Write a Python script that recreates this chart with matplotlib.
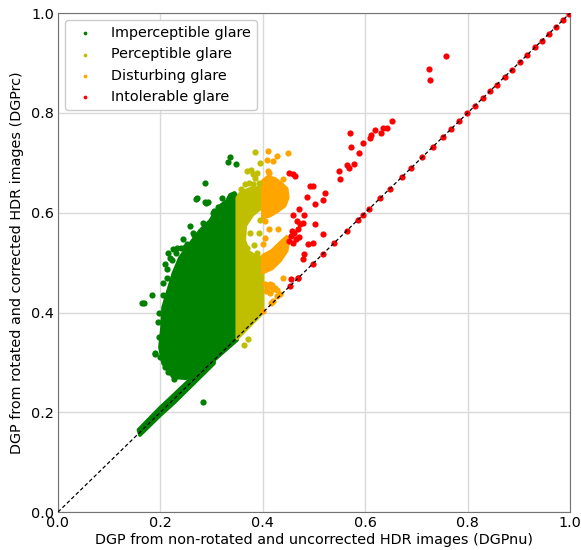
import matplotlib
matplotlib.use("Agg")
import matplotlib.pyplot as plt

# colours per glare class
c_imp = "green"
c_per = "y"
c_dis = "orange"
c_int = "red"

# dense clouds (DGPnu, DGPrc)
imp_cloud_x = [0.350, 0.350, 0.345, 0.336, 0.330, 0.314, 0.297, 0.277, 0.258, 0.238,
               0.225, 0.215, 0.205, 0.203, 0.199, 0.205, 0.225, 0.250, 0.275, 0.300]
imp_cloud_y = [0.345, 0.632, 0.640, 0.636, 0.624, 0.612, 0.584, 0.564, 0.538, 0.510,
               0.478, 0.444, 0.410, 0.370, 0.330, 0.298, 0.270, 0.268, 0.280, 0.300]
imp_band_x = [0.157, 0.200, 0.225, 0.305, 0.305, 0.228, 0.200, 0.160]
imp_band_y = [0.165, 0.210, 0.234, 0.312, 0.298, 0.220, 0.194, 0.154]

per_cloud_x = [0.350, 0.350, 0.357, 0.365, 0.375, 0.390, 0.400, 0.400, 0.380, 0.366,
               0.364, 0.372, 0.388, 0.400, 0.400]
per_cloud_y = [0.348, 0.630, 0.640, 0.644, 0.648, 0.650, 0.652, 0.612, 0.596, 0.574,
               0.545, 0.522, 0.512, 0.510, 0.400]

dis_top_x = [0.400, 0.410, 0.424, 0.437, 0.447, 0.449, 0.443, 0.430, 0.414, 0.400]
dis_top_y = [0.664, 0.672, 0.668, 0.658, 0.648, 0.630, 0.614, 0.604, 0.594, 0.590]
dis_low_x = [0.400, 0.418, 0.434, 0.447, 0.450, 0.447, 0.434, 0.418, 0.400]
dis_low_y = [0.514, 0.524, 0.540, 0.552, 0.544, 0.524, 0.504, 0.488, 0.480]

# sparse points
imp_x = [0.336, 0.332, 0.347, 0.287, 0.270, 0.287, 0.293, 0.312, 0.305, 0.316,
         0.164, 0.168, 0.184, 0.205, 0.225, 0.232, 0.219, 0.209, 0.213, 0.264,
         0.252, 0.271, 0.289, 0.189, 0.189, 0.227, 0.283, 0.244, 0.240, 0.258,
         0.215, 0.222, 0.212, 0.205, 0.230, 0.198, 0.196, 0.197, 0.200, 0.210,
         0.215, 0.320, 0.302, 0.284, 0.266, 0.248]
imp_y = [0.712, 0.702, 0.698, 0.660, 0.628, 0.622, 0.622, 0.612, 0.604, 0.600,
         0.420, 0.420, 0.436, 0.436, 0.528, 0.530, 0.510, 0.498, 0.488, 0.560,
         0.538, 0.630, 0.620, 0.318, 0.316, 0.266, 0.220, 0.548, 0.530, 0.574,
         0.520, 0.505, 0.470, 0.460, 0.520, 0.400, 0.380, 0.350, 0.310, 0.290,
         0.280, 0.630, 0.600, 0.580, 0.556, 0.532]

per_x = [0.385, 0.395, 0.369, 0.377, 0.381, 0.389, 0.385, 0.365, 0.373, 0.381,
         0.393, 0.357, 0.375, 0.383, 0.369, 0.389, 0.371, 0.363, 0.395, 0.392]
per_y = [0.722, 0.700, 0.684, 0.686, 0.678, 0.680, 0.670, 0.658, 0.660, 0.658,
         0.660, 0.648, 0.560, 0.536, 0.530, 0.520, 0.346, 0.334, 0.585, 0.560]

dis_x = [0.410, 0.410, 0.428, 0.449, 0.408, 0.420, 0.412, 0.439, 0.437, 0.404,
         0.430, 0.412, 0.404, 0.401, 0.439, 0.414, 0.420, 0.408, 0.428, 0.420,
         0.434, 0.416, 0.400, 0.404, 0.410, 0.418, 0.424, 0.428, 0.406, 0.414]
dis_y = [0.684, 0.724, 0.714, 0.720, 0.706, 0.704, 0.680, 0.668, 0.616, 0.584,
         0.568, 0.568, 0.550, 0.538, 0.470, 0.458, 0.448, 0.450, 0.434, 0.424,
         0.438, 0.420, 0.404, 0.458, 0.452, 0.456, 0.450, 0.446, 0.444, 0.440]

int_x = [0.758, 0.725, 0.727, 0.652, 0.643, 0.635, 0.619, 0.631, 0.611, 0.609,
         0.596, 0.570, 0.572, 0.588, 0.578, 0.564, 0.568, 0.549, 0.551, 0.492,
         0.498, 0.486, 0.521, 0.518, 0.502, 0.471, 0.459, 0.480, 0.473, 0.479,
         0.502, 0.469, 0.518, 0.488, 0.498, 0.480, 0.479, 0.459, 0.463, 0.452,
         0.457, 0.461, 0.455, 0.451, 0.467, 0.469, 0.455, 0.465, 0.471, 0.459]
int_y = [0.914, 0.888, 0.866, 0.784, 0.770, 0.770, 0.766, 0.760, 0.756, 0.750,
         0.740, 0.760, 0.732, 0.720, 0.698, 0.696, 0.690, 0.684, 0.668, 0.654,
         0.654, 0.632, 0.640, 0.626, 0.618, 0.608, 0.596, 0.596, 0.578, 0.580,
         0.578, 0.568, 0.558, 0.538, 0.540, 0.518, 0.508, 0.678, 0.674, 0.680,
         0.564, 0.560, 0.554, 0.544, 0.584, 0.470, 0.468, 0.548, 0.552, 0.540]

# points lying on the 1:1 line
int_diag = [0.453, 0.469, 0.498, 0.518, 0.539, 0.564, 0.586, 0.596, 0.607, 0.629,
            0.648, 0.672, 0.689, 0.711, 0.732, 0.752, 0.768, 0.783, 0.799, 0.814,
            0.830, 0.844, 0.857, 0.873, 0.887, 0.902, 0.916, 0.932, 0.945, 0.959,
            0.973, 0.986, 0.998]

fig = plt.figure(figsize=(5.81, 5.5), dpi=100)
ax = fig.add_axes([0.0998, 0.069, 0.8812, 0.907])

kw = dict(s=20, linewidths=0, zorder=3)
for xs, ys, c in [(imp_cloud_x, imp_cloud_y, c_imp), (imp_band_x, imp_band_y, c_imp),
                  (per_cloud_x, per_cloud_y, c_per),
                  (dis_top_x, dis_top_y, c_dis), (dis_low_x, dis_low_y, c_dis)]:
    ax.fill(xs, ys, facecolor=c, edgecolor=c, lw=2.5, joinstyle="round", zorder=2)

ax.scatter(imp_x, imp_y, color=c_imp, label="Imperceptible glare", **kw)
ax.scatter(per_x, per_y, color=c_per, label="Perceptible glare", **kw)
ax.scatter(dis_x, dis_y, color=c_dis, label="Disturbing glare", **kw)
ax.scatter(int_x, int_y, color=c_int, label="Intolerable glare", **kw)
ax.scatter(int_diag, int_diag, color=c_int, **kw)

ax.plot([0, 1], [0, 1], color="black", ls="--", lw=0.9, dashes=(3, 2), zorder=4)

ax.set_xlim(0, 1)
ax.set_ylim(0, 1)
ax.set_xticks([0, 0.2, 0.4, 0.6, 0.8, 1.0])
ax.set_yticks([0, 0.2, 0.4, 0.6, 0.8, 1.0])
ax.tick_params(length=0, labelsize=10.4, pad=3)
ax.grid(True, color="0.85", lw=1)
ax.set_axisbelow(True)
for sp in ax.spines.values():
    sp.set_color("0.45")

ax.set_xlabel("DGP from non-rotated and uncorrected HDR images (DGPnu)", fontsize=10.4, labelpad=2)
ax.set_ylabel("DGP from rotated and corrected HDR images (DGPrc)", fontsize=10.4, labelpad=5)

ax.legend(loc="upper left", fontsize=10.4, markerscale=0.6, framealpha=1)

fig.savefig("out.png", dpi=100)
